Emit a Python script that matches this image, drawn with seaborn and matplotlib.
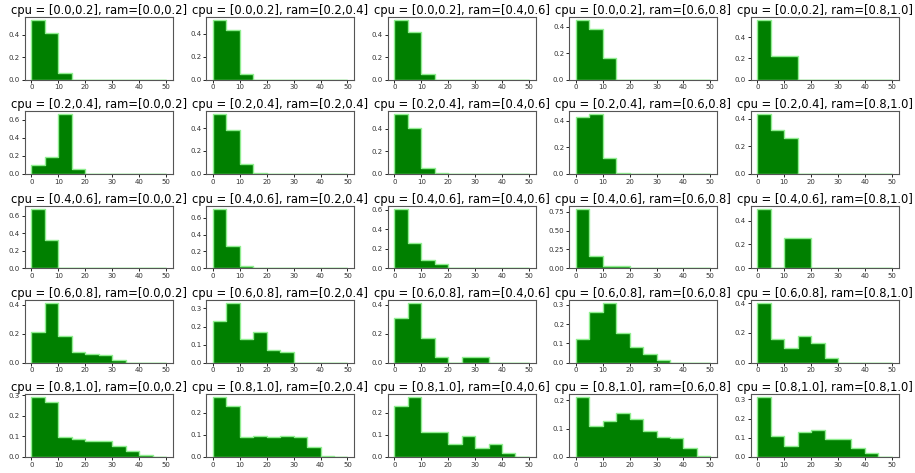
import numpy as np
import matplotlib
matplotlib.use("Agg")
import matplotlib.pyplot as plt
from matplotlib.ticker import MaxNLocator
import seaborn as sns

# bin edges (width 5, 0..50)
bin_edges = list(range(0, 55, 5))
bin_centers = [2.5, 7.5, 12.5, 17.5, 22.5, 27.5, 32.5, 37.5, 42.5, 47.5]

cpu_ranges = ["[0.0,0.2]", "[0.2,0.4]", "[0.4,0.6]", "[0.6,0.8]", "[0.8,1.0]"]
ram_ranges = ["[0.0,0.2]", "[0.2,0.4]", "[0.4,0.6]", "[0.6,0.8]", "[0.8,1.0]"]

# fraction of samples per bin, one row per cpu range, one list per ram range
cpu_00_02 = [
    [0.53, 0.41, 0.06, 0, 0, 0, 0, 0, 0, 0],
    [0.52, 0.43, 0.05, 0, 0, 0, 0, 0, 0, 0],
    [0.53, 0.42, 0.05, 0, 0, 0, 0, 0, 0, 0],
    [0.45, 0.38, 0.16, 0, 0, 0, 0, 0, 0, 0],
    [0.56, 0.22, 0.22, 0, 0, 0, 0, 0, 0, 0],
]
cpu_02_04 = [
    [0.10, 0.19, 0.66, 0.05, 0, 0, 0, 0, 0, 0],
    [0.52, 0.38, 0.09, 0.01, 0, 0, 0, 0, 0, 0],
    [0.53, 0.41, 0.05, 0.01, 0, 0, 0, 0, 0, 0],
    [0.43, 0.45, 0.12, 0.005, 0, 0, 0, 0, 0, 0],
    [0.43, 0.32, 0.26, 0, 0, 0, 0, 0, 0, 0],
]
cpu_04_06 = [
    [0.68, 0.32, 0, 0, 0, 0, 0, 0, 0, 0],
    [0.71, 0.26, 0.03, 0, 0, 0, 0, 0, 0, 0],
    [0.61, 0.26, 0.085, 0.045, 0, 0, 0, 0, 0, 0],
    [0.79, 0.16, 0.025, 0.025, 0, 0, 0, 0, 0, 0],
    [0.50, 0, 0.25, 0.25, 0, 0, 0, 0, 0, 0],
]
cpu_06_08 = [
    [0.21, 0.41, 0.18, 0.07, 0.06, 0.05, 0.02, 0, 0, 0],
    [0.23, 0.33, 0.13, 0.17, 0.07, 0.06, 0, 0, 0, 0],
    [0.31, 0.41, 0.17, 0.04, 0, 0.035, 0.035, 0, 0, 0],
    [0.125, 0.265, 0.31, 0.155, 0.08, 0.045, 0.015, 0, 0, 0],
    [0.40, 0.16, 0.10, 0.18, 0.13, 0.03, 0, 0, 0, 0],
]
cpu_08_10 = [
    [0.29, 0.27, 0.095, 0.085, 0.08, 0.08, 0.055, 0.03, 0.01, 0],
    [0.27, 0.23, 0.09, 0.095, 0.09, 0.095, 0.09, 0.045, 0.003, 0],
    [0.23, 0.27, 0.115, 0.115, 0.06, 0.095, 0.04, 0.06, 0.02, 0],
    [0.21, 0.11, 0.125, 0.155, 0.135, 0.09, 0.07, 0.065, 0.03, 0.005],
    [0.31, 0.11, 0.055, 0.13, 0.14, 0.095, 0.095, 0.045, 0.02, 0],
]
grid_values = [cpu_00_02, cpu_02_04, cpu_04_06, cpu_06_08, cpu_08_10]

fig, axes = plt.subplots(5, 5, figsize=(9.15, 4.73), dpi=100)
fig.subplots_adjust(left=0.027, right=0.982, top=0.964, bottom=0.034,
                    wspace=0.226, hspace=0.51)

for i, cpu in enumerate(cpu_ranges):
    for j, ram in enumerate(ram_ranges):
        ax = axes[i, j]
        sns.histplot(x=bin_centers, weights=grid_values[i][j], bins=bin_edges,
                     stat="count", element="step", fill=True,
                     color="green", edgecolor="lightgreen",
                     linewidth=1, alpha=1, ax=ax)
        ax.set_title(f"cpu = {cpu}, ram={ram}", fontsize=8.3, pad=2)
        ax.set_xlabel("")
        ax.set_ylabel("")
        ax.set_xlim(-2.5, 52.5)
        ax.set_xticks([0, 10, 20, 30, 40, 50])
        ax.yaxis.set_major_locator(MaxNLocator(nbins=4, steps=[1, 2, 2.5, 5, 10]))
        ax.tick_params(labelsize=5, length=2, width=0.6, pad=1.5,
                       labelcolor="#333333")
        for s in ax.spines.values():
            s.set_color("#555555")
            s.set_linewidth(0.8)

fig.savefig("out.png", dpi=100)
